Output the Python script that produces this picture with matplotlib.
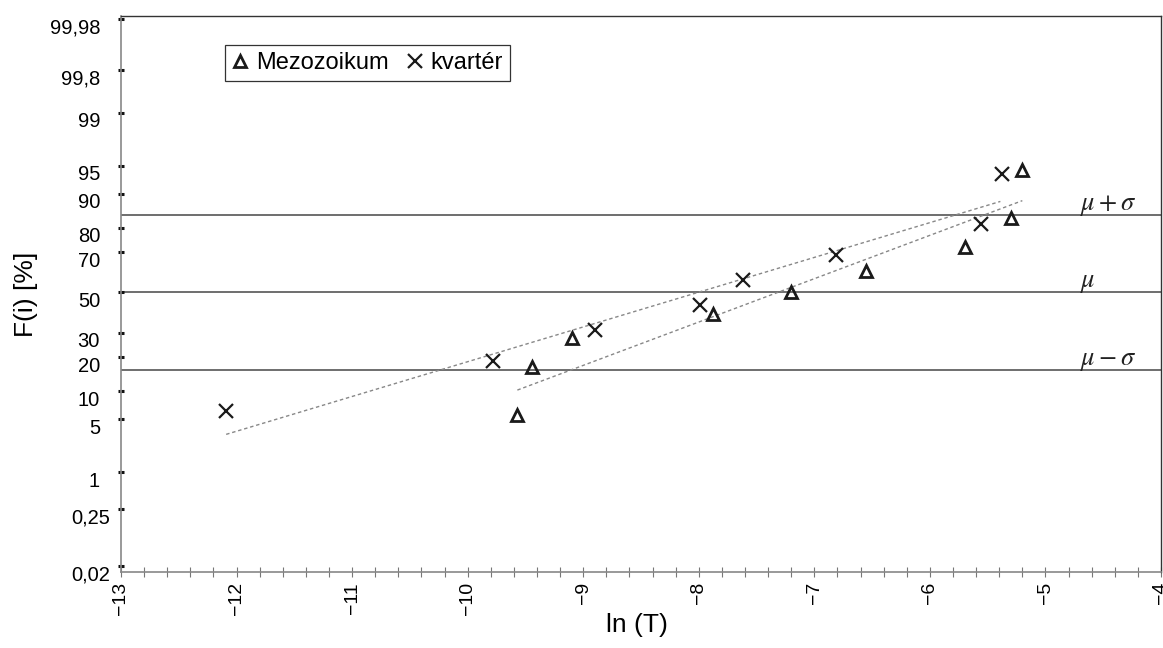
import math

import numpy as np
import matplotlib
matplotlib.use('Agg')
import matplotlib.pyplot as plt
from matplotlib.transforms import ScaledTranslation

plt.rcParams['font.family'] = ['Liberation Sans', 'DejaVu Sans']
plt.rcParams['mathtext.fontset'] = 'stix'

# data
meso_lnT = [-9.57, -9.44, -9.10, -7.88, -7.20, -6.55, -5.70, -5.30, -5.20]
meso_F = [5.6, 16.7, 27.8, 38.9, 50.0, 61.1, 72.2, 83.3, 94.4]
kvar_lnT = [-12.09, -9.78, -8.90, -7.99, -7.62, -6.81, -5.56, -5.38]
kvar_F = [6.25, 18.75, 31.25, 43.75, 56.25, 68.75, 81.25, 93.75]

kvar_fit_lnT = [-12.09, -5.39]
kvar_fit_F = [3.3, 88.1]
meso_fit_lnT = [-9.57, -5.20]
meso_fit_F = [10.3, 88.3]

ref_levels = [84.13, 50.0, 15.87]
ref_labels = [r'$\mu + \sigma$', r'$\mu$', r'$\mu - \sigma$']
ref_label_x = -4.70

ytick_values = [0.02, 0.25, 1, 5, 10, 20, 30, 50, 70, 80, 90, 95, 99, 99.8, 99.98]
ytick_labels = ['0,02', '0,25', '1', '5', '10', '20', '30', '50', '70', '80',
                '90', '95', '99', '99,8', '99,98']


# normal probability scale (Acklam's inverse normal)
A = [-3.969683028665376e+01, 2.209460984245205e+02, -2.759285104469687e+02,
     1.383577518672690e+02, -3.066479806614716e+01, 2.506628277459239e+00]
B = [-5.447609879822406e+01, 1.615858368580409e+02, -1.556989798598866e+02,
     6.680131188771972e+01, -1.328068155288572e+01]
C = [-7.784894002430293e-03, -3.223964580411365e-01, -2.400758277161838e+00,
     -2.549671348721382e+00, 4.374664141464968e+00, 2.938163982698783e+00]
D = [7.784695709041462e-03, 3.224671290700398e-01, 2.445134137142996e+00,
     3.754408661907416e+00]


def norm_ppf(p):
    p = np.clip(np.asarray(p, dtype=float), 1e-12, 1 - 1e-12)
    q = p - 0.5
    r = q * q
    mid = ((((((A[0]*r + A[1])*r + A[2])*r + A[3])*r + A[4])*r + A[5]) * q /
           (((((B[0]*r + B[1])*r + B[2])*r + B[3])*r + B[4])*r + 1))
    ql = np.sqrt(-2 * np.log(p))
    low = ((((((C[0]*ql + C[1])*ql + C[2])*ql + C[3])*ql + C[4])*ql + C[5]) /
           ((((D[0]*ql + D[1])*ql + D[2])*ql + D[3])*ql + 1))
    qu = np.sqrt(-2 * np.log(1 - p))
    high = -((((((C[0]*qu + C[1])*qu + C[2])*qu + C[3])*qu + C[4])*qu + C[5]) /
             ((((D[0]*qu + D[1])*qu + D[2])*qu + D[3])*qu + 1))
    return np.where(p < 0.02425, low, np.where(p > 1 - 0.02425, high, mid))


_erf = np.vectorize(math.erf)


def forward(percent):
    return norm_ppf(np.asarray(percent, dtype=float) / 100)


def inverse(z):
    return 100 * 0.5 * (1 + _erf(np.asarray(z, dtype=float) / math.sqrt(2)))


fig = plt.figure(figsize=(11.63, 6.48), dpi=100)
ax = fig.add_axes([121/1163, 1 - 572/648, 1040/1163, 556/648])

ax.set_yscale('function', functions=(forward, inverse))
ax.set_xlim(-13, -4)
ax.set_ylim(float(inverse(-3.622)), float(inverse(3.583)))

for lvl, lab in zip(ref_levels, ref_labels):
    ax.axhline(lvl, color='#555555', lw=1.2, zorder=1)
    ax.annotate(lab, xy=(ref_label_x, lvl), xytext=(0, 5), textcoords='offset pixels',
                fontsize=19, ha='left', va='baseline', color='#222222')

dash = (0, (2.5, 2))
ax.plot(kvar_fit_lnT, kvar_fit_F, color='#888888', lw=1, ls=dash, zorder=2)
ax.plot(meso_fit_lnT, meso_fit_F, color='#888888', lw=1, ls=dash, zorder=2)

ax.plot(meso_lnT, meso_F, ls='none', marker='^', ms=9, mew=2, mfc='none',
        mec='#1a1a1a', label='Mezozoikum', zorder=3)
ax.plot(kvar_lnT, kvar_F, ls='none', marker='x', ms=10.5, mew=1.6,
        mec='#1a1a1a', label='kvartér', zorder=3)

leg = ax.legend(loc='upper left', bbox_to_anchor=(0.1, 0.948), ncol=2,
                fancybox=False, edgecolor='#333333', borderaxespad=0,
                handlelength=0.7, handletextpad=0.3, columnspacing=0.8,
                borderpad=0.3, fontsize=17, framealpha=1)
leg.get_frame().set_linewidth(0.9)

# x axis
ax.set_xticks(np.arange(-13, -3))
ax.set_xticks(np.arange(-13, -4, 0.2), minor=True)
ax.tick_params(axis='x', which='both', direction='inout', length=6.5, width=0.8,
               color='#777777', labelsize=14, pad=4, labelrotation=90)

# y axis
ax.set_yticks(ytick_values)
ax.set_yticklabels(ytick_labels)
ax.yaxis.set_minor_locator(matplotlib.ticker.NullLocator())
ax.tick_params(axis='y', direction='inout', length=4.8, width=2.2, color='#111111',
               labelsize=14.5, pad=12.7)
for lab in ax.get_yticklabels():
    dx = 10 if lab.get_text() in ('0,02', '0,25') else 0
    lab.set_transform(lab.get_transform() +
                      ScaledTranslation(dx/100, -7/100, fig.dpi_scale_trans))

for side in ('left', 'bottom'):
    ax.spines[side].set_color('#888888')
    ax.spines[side].set_linewidth(1.2)
for side in ('top', 'right'):
    ax.spines[side].set_color('#333333')
    ax.spines[side].set_linewidth(1.0)

ax.set_xlabel('ln (T)', fontsize=19)
ax.set_ylabel('F(i) [%]', fontsize=19)
ax.xaxis.set_label_coords(0.496, -0.073)
ax.yaxis.set_label_coords(-0.0798, 0.5)

fig.savefig('out.png', dpi=100)
